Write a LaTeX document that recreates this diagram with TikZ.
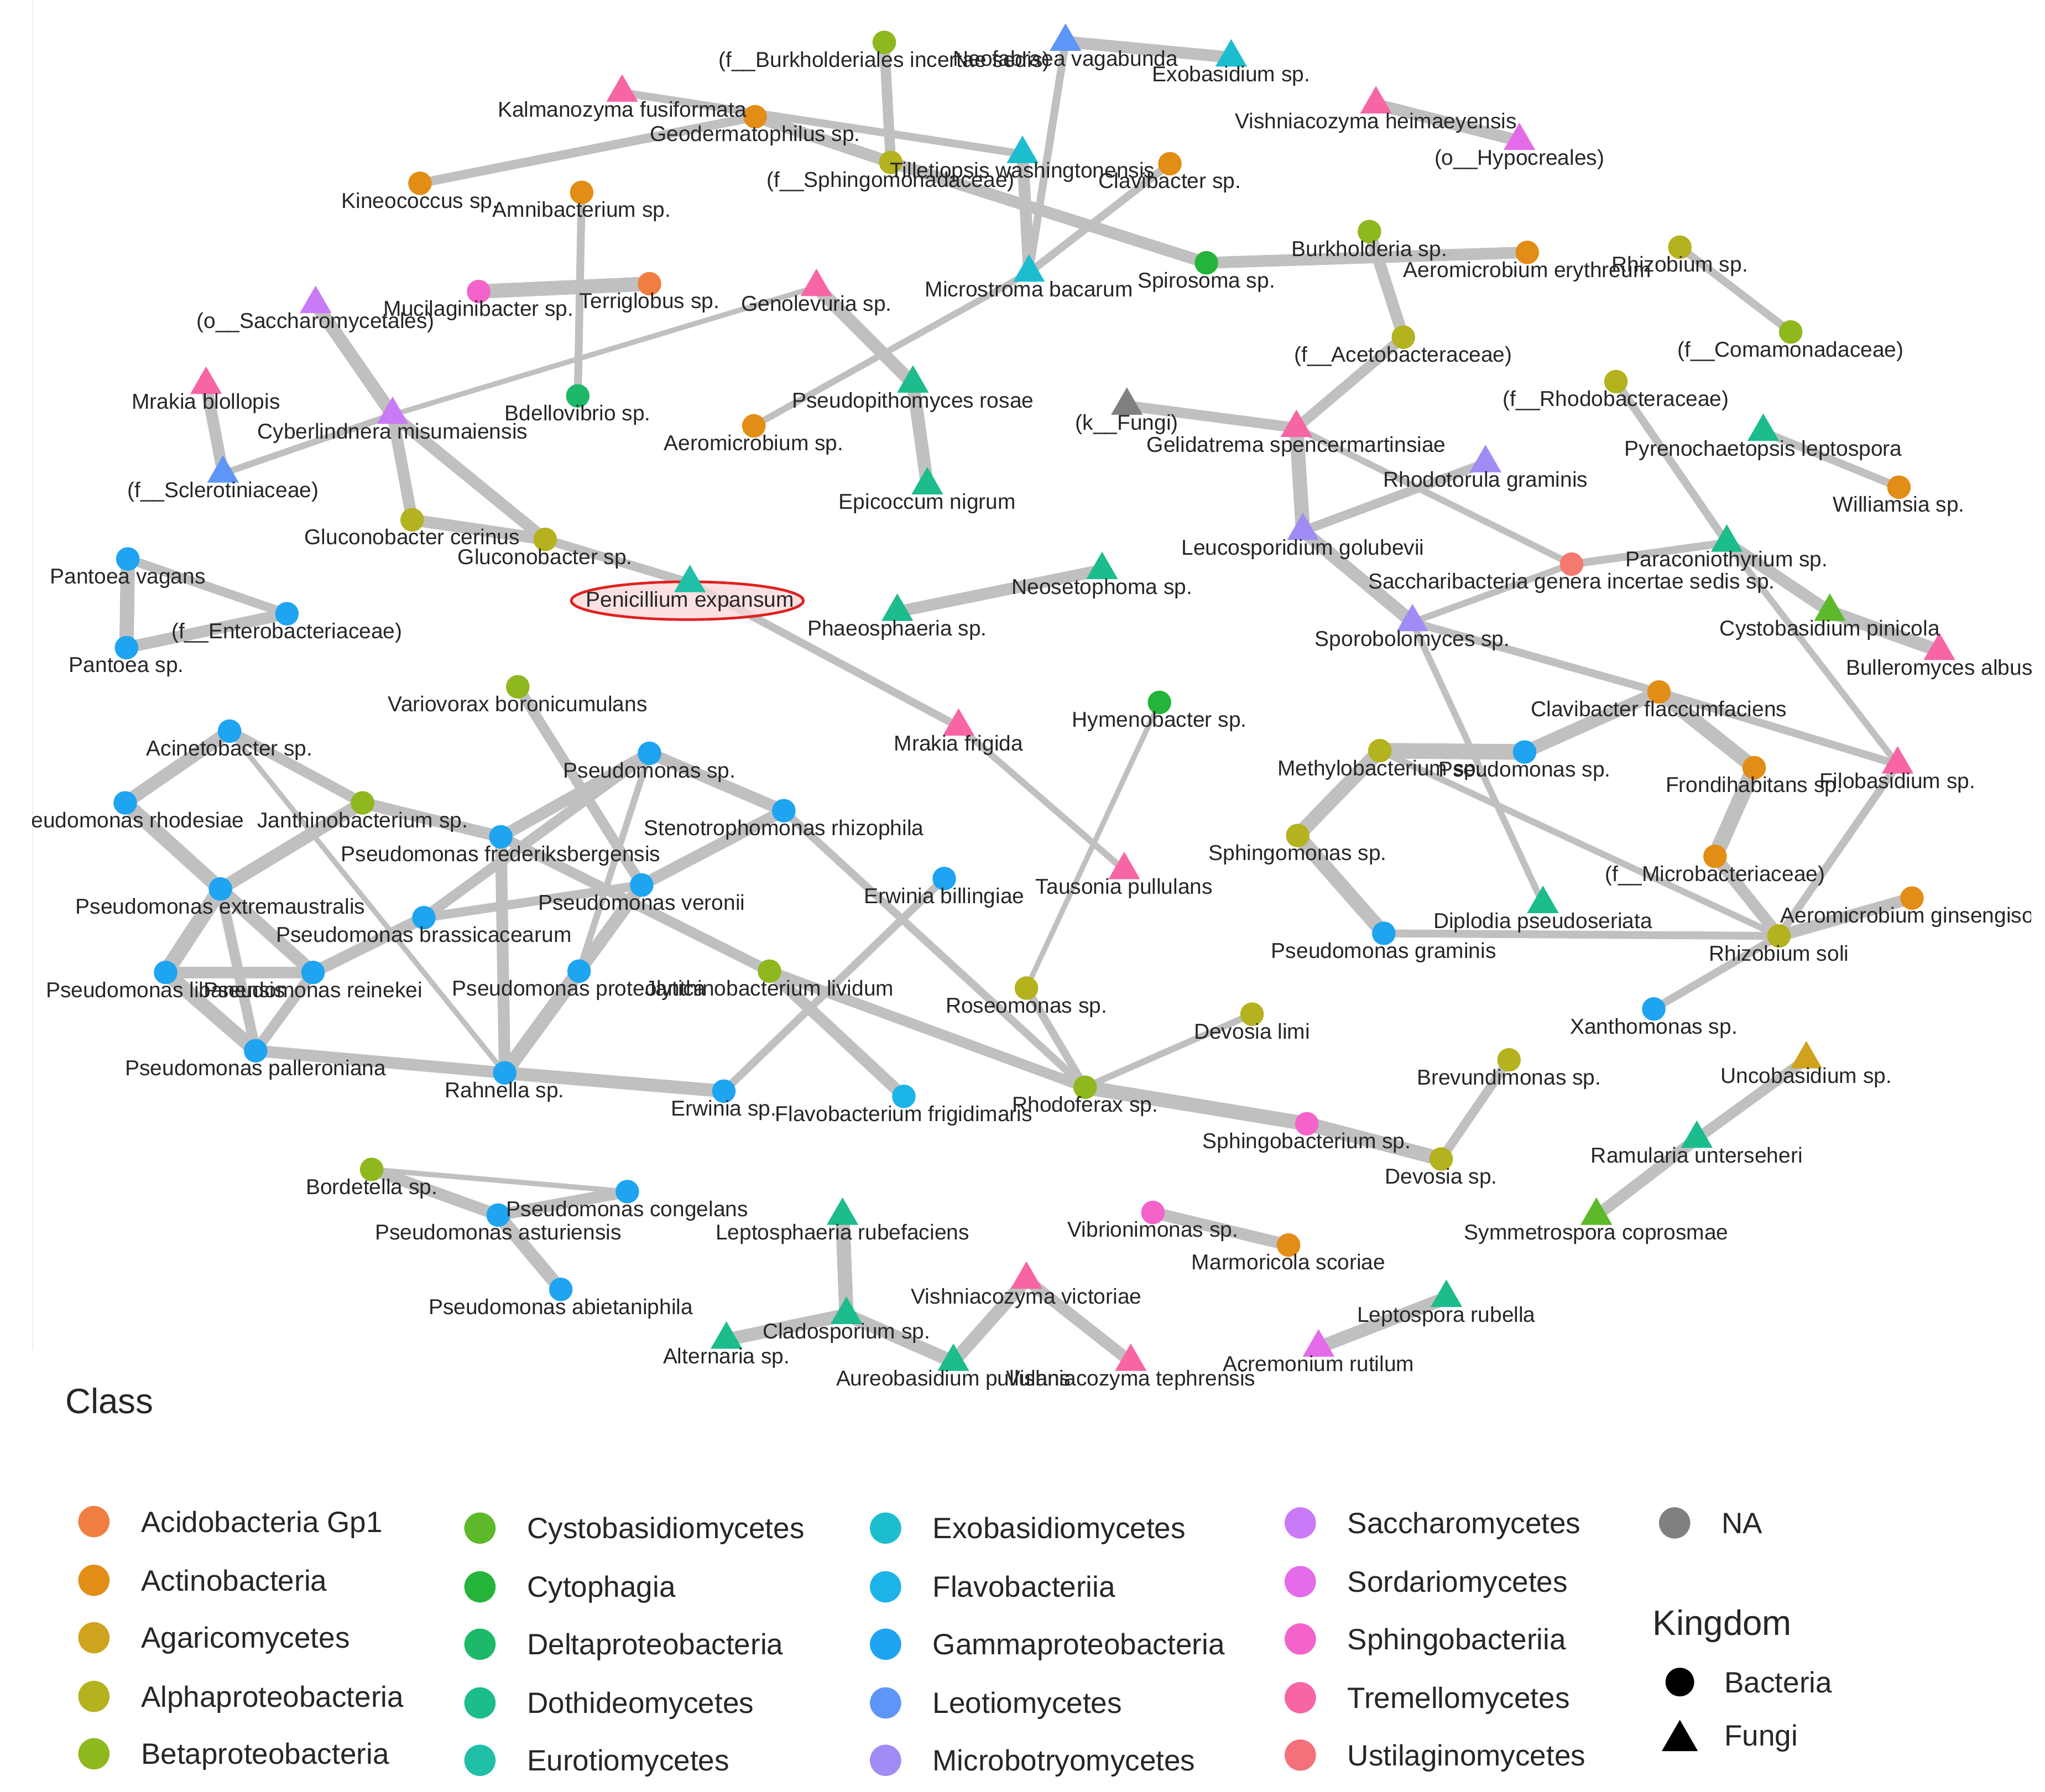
\documentclass[tikz,border=0pt]{standalone}
\usepackage{fontspec}
\setmainfont{Liberation Sans}
\usetikzlibrary{shapes.geometric}
\pgfdeclarelayer{bgl}
\pgfdeclarelayer{edges}
\pgfdeclarelayer{ell}
\pgfdeclarelayer{lab}
\pgfsetlayers{bgl,edges,ell,main,lab}
\definecolor{acido}{HTML}{EF7E40}
\definecolor{actino}{HTML}{E28D16}
\definecolor{agar}{HTML}{CFA31E}
\definecolor{alpha}{HTML}{B4B21F}
\definecolor{beta}{HTML}{8EB81D}
\definecolor{cysto}{HTML}{5DB92A}
\definecolor{cyto}{HTML}{24B43A}
\definecolor{delta}{HTML}{1DB868}
\definecolor{doth}{HTML}{1CBC8C}
\definecolor{euro}{HTML}{1FBFA8}
\definecolor{exob}{HTML}{1DBDD0}
\definecolor{flavo}{HTML}{1CB3E8}
\definecolor{gamma}{HTML}{1EA4F1}
\definecolor{leo}{HTML}{5D96F6}
\definecolor{micb}{HTML}{A18BF5}
\definecolor{sacc}{HTML}{C97AF7}
\definecolor{sord}{HTML}{E46BE9}
\definecolor{sphb}{HTML}{F463C9}
\definecolor{trem}{HTML}{F765A5}
\definecolor{ustil}{HTML}{F4707B}
\definecolor{naG}{HTML}{808080}
\definecolor{salm}{HTML}{F47A70}
\definecolor{edgecol}{RGB}{192,192,192}
\definecolor{txt}{HTML}{262626}
\definecolor{ellred}{HTML}{E02020}
\definecolor{ellfill}{HTML}{FADADA}
\tikzset{
  cshape/.style={circle, minimum size=18pt, inner sep=0pt, draw=none},
  tshape/.style={regular polygon, regular polygon sides=3, minimum size=28pt, inner sep=0pt, draw=none},
  lbl/.style={anchor=base, inner sep=0pt, text=txt, font=\fontsize{16.5}{18}\selectfont},
  ed/.style={draw=edgecol, line width=#1pt},
  legt/.style={anchor=base west, inner sep=0pt, text=txt, font=\fontsize{22.5}{25}\selectfont},
  legtitle/.style={anchor=base west, inner sep=0pt, text=txt, font=\fontsize{27}{30}\selectfont},
  legdot/.style={circle, minimum size=24pt, inner sep=0pt, draw=none}
}
\newcommand{\cnd}[5]{\node[cshape, fill=#4] (#1) at (#2,-#3) {};
  \begin{pgfonlayer}{lab}\node[lbl] (#1l) at (#2,-#3-19) {#5};\end{pgfonlayer}}
\newcommand{\tnd}[5]{\node[tshape, fill=#4] (#1) at (#2,-#3-3.5) {};
  \begin{pgfonlayer}{lab}\node[lbl] (#1l) at (#2,-#3-22) {#5};\end{pgfonlayer}}
\newcommand{\legc}[5]{\node[legdot, fill=#4] (#1) at (#2,-#3) {};
  \node[legt] (#1t) at (#2+36,-#3-8) {#5};}
\begin{document}
\begin{tikzpicture}[x=1pt,y=1pt]
\begin{pgfonlayer}{bgl}
\fill[white] (0,0) rectangle (1568,-1373);
\draw[black!7, line width=1pt] (25,0) -- (25,-1035);
\end{pgfonlayer}
\useasboundingbox (0,0) rectangle (1568,-1373);
% ---------- nodes ----------
\cnd{bur}{678}{32}{beta}{(f\_\_Burkholderiales incertae sedis)}
\tnd{neo}{817}{28}{leo}{Neofabraea vagabunda}
\tnd{exo}{944}{40}{exob}{Exobasidium sp.}
\tnd{kal}{477}{67}{trem}{Kalmanozyma fusiformata}
\cnd{geo}{579}{89}{actino}{Geodermatophilus sp.}
\tnd{vhe}{1055}{76}{trem}{Vishniacozyma heimaeyensis}
\tnd{hyp}{1165}{104}{sord}{(o\_\_Hypocreales)}
\cnd{kin}{322}{140}{actino}{Kineococcus sp.}
\cnd{amn}{446}{147}{actino}{Amnibacterium sp.}
\cnd{sph}{683}{124}{alpha}{(f\_\_Sphingomonadaceae)}
\tnd{til}{784}{114}{exob}{Tilletiopsis washingtonensis}
\cnd{clv}{897}{125}{actino}{Clavibacter sp.}
\cnd{bkh}{1050}{177}{beta}{Burkholderia sp.}
\cnd{aer}{1171}{193}{actino}{Aeromicrobium erythreum}
\cnd{rhz}{1288}{189}{alpha}{Rhizobium sp.}
\cnd{muc}{367}{223}{sphb}{Mucilaginibacter sp.}
\cnd{ter}{498}{217}{acido}{Terriglobus sp.}
\tnd{gen}{626}{216}{trem}{Genolevuria sp.}
\tnd{mic}{789}{205}{exob}{Microstroma bacarum}
\cnd{spi}{925}{201}{cyto}{Spirosoma sp.}
\tnd{sac}{242}{229}{sacc}{(o\_\_Saccharomycetales)}
\cnd{ace}{1076}{258}{alpha}{(f\_\_Acetobacteraceae)}
\cnd{com}{1373}{254}{beta}{(f\_\_Comamonadaceae)}
\tnd{mbl}{158}{291}{trem}{Mrakia blollopis}
\tnd{pro}{700}{290}{doth}{Pseudopithomyces rosae}
\cnd{bde}{443}{303}{delta}{Bdellovibrio sp.}
\tnd{fun}{864}{307}{naG}{(k\_\_Fungi)}
\cnd{rba}{1239}{292}{alpha}{(f\_\_Rhodobacteraceae)}
\tnd{cyb}{301}{314}{sacc}{Cyberlindnera misumaiensis}
\cnd{aes}{578}{326}{actino}{Aeromicrobium sp.}
\tnd{gel}{994}{324}{trem}{Gelidatrema spencermartinsiae}
\tnd{pyr}{1352}{327}{doth}{Pyrenochaetopsis leptospora}
\tnd{scl}{171}{359}{leo}{(f\_\_Sclerotiniaceae)}
\tnd{rho}{1139}{351}{micb}{Rhodotorula graminis}
\tnd{epi}{711}{368}{doth}{Epicoccum nigrum}
\cnd{wil}{1456}{373}{actino}{Williamsia sp.}
\cnd{glc}{316}{398}{alpha}{Gluconobacter cerinus}
\cnd{gls}{418}{413}{alpha}{Gluconobacter sp.}
\tnd{leu}{999}{403}{micb}{Leucosporidium golubevii}
\tnd{par}{1324}{412}{doth}{Paraconiothyrium sp.}
\tnd{pen}{529}{443}{euro}{Penicillium expansum}
\cnd{sab}{1205}{432}{salm}{Saccharibacteria genera incertae sedis sp.}
\cnd{pva}{98}{428}{gamma}{Pantoea vagans}
\cnd{ent}{220}{470}{gamma}{(f\_\_Enterobacteriaceae)}
\cnd{psp}{97}{496}{gamma}{Pantoea sp.}
\tnd{nes}{845}{433}{doth}{Neosetophoma sp.}
\tnd{pha}{688}{465}{doth}{Phaeosphaeria sp.}
\tnd{spo}{1083}{473}{micb}{Sporobolomyces sp.}
\tnd{cys}{1403}{465}{cysto}{Cystobasidium pinicola}
\tnd{bul}{1487}{495}{trem}{Bulleromyces albus}
\cnd{var}{397}{526}{beta}{Variovorax boronicumulans}
\cnd{hym}{889}{538}{cyto}{Hymenobacter sp.}
\cnd{aci}{176}{560}{gamma}{Acinetobacter sp.}
\cnd{cfl}{1272}{530}{actino}{Clavibacter flaccumfaciens}
\tnd{mfr}{735}{553}{trem}{Mrakia frigida}
\cnd{psa}{498}{577}{gamma}{Pseudomonas sp.}
\cnd{met}{1058}{575}{alpha}{Methylobacterium sp.}
\cnd{psb}{1169}{576}{gamma}{Pseudomonas sp.}
\tnd{fil}{1455}{582}{trem}{Filobasidium sp.}
\cnd{fro}{1345}{588}{actino}{Frondihabitans sp.}
\node[cshape, fill=gamma] (prh) at (96,-615) {};
\cnd{jsp}{278}{615}{beta}{Janthinobacterium sp.}
\cnd{ste}{601}{621}{gamma}{Stenotrophomonas rhizophila}
\cnd{pfr}{384}{641}{gamma}{Pseudomonas frederiksbergensis}
\cnd{pex}{169}{681}{gamma}{Pseudomonas extremaustralis}
\cnd{pve}{492}{678}{gamma}{Pseudomonas veronii}
\cnd{ebi}{724}{673}{gamma}{Erwinia billingiae}
\tnd{tau}{862}{663}{trem}{Tausonia pullulans}
\cnd{sgs}{995}{640}{alpha}{Sphingomonas sp.}
\cnd{mba}{1315}{656}{actino}{(f\_\_Microbacteriaceae)}
\tnd{dip}{1183}{689}{doth}{Diplodia pseudoseriata}
\node[cshape, fill=actino] (agi) at (1466,-688) {};
\cnd{pbr}{325}{703}{gamma}{Pseudomonas brassicacearum}
\cnd{pgr}{1061}{715}{gamma}{Pseudomonas graminis}
\cnd{rso}{1364}{717}{alpha}{Rhizobium soli}
\cnd{pli}{127}{745}{gamma}{Pseudomonas libanensis}
\cnd{pre}{240}{745}{gamma}{Pseudomonas reinekei}
\cnd{ppr}{444}{744}{gamma}{Pseudomonas proteolytica}
\cnd{jli}{590}{744}{beta}{Janthinobacterium lividum}
\cnd{ros}{787}{757}{alpha}{Roseomonas sp.}
\cnd{dli}{960}{777}{alpha}{Devosia limi}
\cnd{xan}{1268}{773}{gamma}{Xanthomonas sp.}
\cnd{ppa}{196}{805}{gamma}{Pseudomonas palleroniana}
\cnd{rah}{387}{822}{gamma}{Rahnella sp.}
\cnd{ers}{555}{836}{gamma}{Erwinia sp.}
\cnd{fla}{693}{840}{flavo}{Flavobacterium frigidimaris}
\cnd{rdf}{832}{833}{beta}{Rhodoferax sp.}
\cnd{bre}{1157}{812}{alpha}{Brevundimonas sp.}
\tnd{unc}{1385}{808}{agar}{Uncobasidium sp.}
\cnd{sgb}{1002}{861}{sphb}{Sphingobacterium sp.}
\cnd{dsp}{1105}{888}{alpha}{Devosia sp.}
\tnd{ram}{1301}{869}{doth}{Ramularia unterseheri}
\cnd{bor}{285}{896}{beta}{Bordetella sp.}
\cnd{pco}{481}{913}{gamma}{Pseudomonas congelans}
\cnd{pas}{382}{931}{gamma}{Pseudomonas asturiensis}
\tnd{lep}{646}{928}{doth}{Leptosphaeria rubefaciens}
\cnd{vib}{884}{929}{sphb}{Vibrionimonas sp.}
\cnd{mar}{988}{954}{actino}{Marmoricola scoriae}
\tnd{sym}{1224}{928}{cysto}{Symmetrospora coprosmae}
\tnd{vvi}{787}{977}{trem}{Vishniacozyma victoriae}
\cnd{pab}{430}{988}{gamma}{Pseudomonas abietaniphila}
\tnd{lru}{1109}{991}{doth}{Leptospora rubella}
\tnd{cla}{649}{1004}{doth}{Cladosporium sp.}
\tnd{alt}{557}{1023}{doth}{Alternaria sp.}
\tnd{acr}{1011}{1029}{sord}{Acremonium rutilum}
\tnd{aur}{731}{1040}{doth}{Aureobasidium pullulans}
\tnd{vte}{867}{1040}{trem}{Vishniacozyma tephrensis}
% clipped labels at the panel edges
\begin{pgfonlayer}{lab}
\begin{scope}
\clip (25,0) rectangle (1557,-1050);
\node[lbl] (prhl) at (96,-634) {Pseudomonas rhodesiae};
\node[lbl] (agil) at (1466,-707) {Aeromicrobium ginsengisoli};
\end{scope}
\end{pgfonlayer}
% highlight ellipse
\begin{pgfonlayer}{ell}
\node[ellipse, draw=ellred, line width=2pt, fill=ellfill, fill opacity=0.8, minimum width=178pt, minimum height=29pt, inner sep=0pt] (pene) at (527,-460) {};
\end{pgfonlayer}
% ---------- edges ----------
\begin{pgfonlayer}{edges}
\foreach \a/\b/\w in {kin/geo/7, kal/til/6, geo/sph/9, sph/spi/9, bur/sph/8, neo/exo/9, neo/mic/6,
  til/mic/9, clv/mic/6, mic/aes/5, spi/aer/9, bkh/ace/9, ace/gel/8, fun/gel/8, gel/leu/11,
  gel/sab/5, rho/leu/7, leu/spo/10, spo/sab/5, sab/par/6, rba/par/6, par/cys/9, cys/bul/10,
  par/fil/5, pyr/wil/6, rhz/com/6, vhe/hyp/9, spo/cfl/6, spo/dip/5, cfl/psb/10, cfl/fro/11,
  cfl/fil/6, fro/mba/12, mba/rso/9, fil/rso/6, rso/agi/9, rso/xan/6, rso/pgr/6, met/psb/12,
  met/sgs/11, sgs/pgr/11, met/rso/5, pva/psp/11, pva/ent/7, psp/ent/9, sac/cyb/10, muc/ter/11,
  amn/bde/6, gen/pro/10, gen/cyb/4, pro/epi/10, mbl/scl/9, scl/cyb/5, cyb/glc/9, cyb/gls/9,
  glc/gls/9, gls/pen/7, pen/mfr/6, pha/nes/9, mfr/tau/5, hym/ros/4, ros/rdf/6, rdf/dli/5,
  rdf/sgb/11, sgb/dsp/11, dsp/bre/7, bor/pco/4, bor/pas/9, pas/pco/9, pas/pab/10, lep/cla/11,
  cla/alt/10, cla/aur/10, aur/vvi/10, vvi/vte/9, vib/mar/9, lru/acr/10, unc/ram/8, ram/sym/9,
  aci/prh/10, aci/jsp/8, aci/rah/4, prh/pex/11, jsp/pex/10, jsp/pfr/9, pex/pli/12, pex/pre/10,
  pex/ppa/8, pli/pre/9, pli/ppa/11, pre/ppa/8, pre/pbr/9, pbr/psa/8, pfr/psa/9, pfr/rah/9,
  psa/ste/9, psa/ppr/5, var/pve/8, pve/ste/9, pve/rah/10, ppr/rah/11, ppa/rah/9, rah/ers/10,
  ers/ebi/6, jli/fla/9, jli/rdf/8, ste/rdf/6, pfr/jli/8, pbr/pve/7}
  \draw[ed=\w] (\a.center) -- (\b.center);
\end{pgfonlayer}
% ---------- legend ----------
\node[legtitle] (classt) at (50,-1083) {Class};
\legc{l1}{72}{1166}{acido}{Acidobacteria Gp1}
\legc{l2}{72}{1211}{actino}{Actinobacteria}
\legc{l3}{72}{1255}{agar}{Agaricomycetes}
\legc{l4}{72}{1300}{alpha}{Alphaproteobacteria}
\legc{l5}{72}{1344}{beta}{Betaproteobacteria}
\legc{l6}{368}{1171}{cysto}{Cystobasidiomycetes}
\legc{l7}{368}{1216}{cyto}{Cytophagia}
\legc{l8}{368}{1260}{delta}{Deltaproteobacteria}
\legc{l9}{368}{1305}{doth}{Dothideomycetes}
\legc{l10}{368}{1349}{euro}{Eurotiomycetes}
\legc{l11}{679}{1171}{exob}{Exobasidiomycetes}
\legc{l12}{679}{1216}{flavo}{Flavobacteriia}
\legc{l13}{679}{1260}{gamma}{Gammaproteobacteria}
\legc{l14}{679}{1305}{leo}{Leotiomycetes}
\legc{l15}{679}{1349}{micb}{Microbotryomycetes}
\legc{l16}{997}{1167}{sacc}{Saccharomycetes}
\legc{l17}{997}{1212}{sord}{Sordariomycetes}
\legc{l18}{997}{1256}{sphb}{Sphingobacteriia}
\legc{l19}{997}{1301}{trem}{Tremellomycetes}
\legc{l20}{997}{1345}{ustil}{Ustilaginomycetes}
\legc{l21}{1284}{1167}{naG}{NA}
\node[legtitle] (kingt) at (1267,-1253) {Kingdom};
\node[circle, minimum size=22pt, inner sep=0pt, fill=black] (kb) at (1288,-1289) {};
\node[legt] (kbt) at (1322,-1297) {Bacteria};
\node[regular polygon, regular polygon sides=3, minimum size=32pt, inner sep=0pt, fill=black] (kf) at (1288,-1334) {};
\node[legt] (kft) at (1322,-1338) {Fungi};
\end{tikzpicture}
\end{document}
